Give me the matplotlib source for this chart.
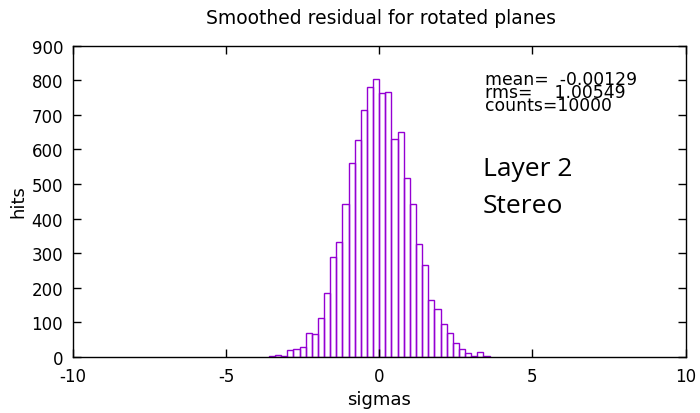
import matplotlib
matplotlib.use("Agg")
import matplotlib.pyplot as plt

# histogram of smoothed residuals, bin width 0.2
bin_centers = [-3.5, -3.3, -3.1, -2.9, -2.7, -2.5, -2.3, -2.1, -1.9, -1.7,
               -1.5, -1.3, -1.1, -0.9, -0.7, -0.5, -0.3, -0.1,
               0.1, 0.3, 0.5, 0.7, 0.9, 1.1, 1.3, 1.5, 1.7, 1.9,
               2.1, 2.3, 2.5, 2.7, 2.9, 3.1, 3.3, 3.5]
counts = [3, 7, 2, 19, 22, 28, 70, 66, 114, 184,
          288, 333, 441, 561, 626, 713, 781, 803,
          762, 765, 631, 651, 518, 441, 328, 266, 166, 139,
          94, 69, 41, 22, 12, 3, 13, 3]
bin_width = 0.2

x_ticks = [-10, -5, 0, 5, 10]
y_ticks = [0, 100, 200, 300, 400, 500, 600, 700, 800, 900]

stats_text = "mean=  -0.00129\nrms=    1.00549\ncounts=10000"
note_lines = ["Layer 2", "Stereo"]

plt.rcParams["font.family"] = ["DejaVu Sans"]
plt.rcParams["axes.unicode_minus"] = False

fig = plt.figure(figsize=(7.0, 4.14), dpi=100)
ax = fig.add_axes([0.1039, 0.1353, 0.8757, 0.7519])

ax.bar(bin_centers, counts, width=bin_width, fill=False,
       edgecolor="#9400d3", linewidth=1.0)

ax.set_xlim(-10, 10)
ax.set_ylim(0, 900)
ax.set_xticks(x_ticks)
ax.set_yticks(y_ticks)
ax.tick_params(direction="in", length=6, width=1.0, top=True, right=True,
               labelsize=12, pad=7, colors="black")
for s in ax.spines.values():
    s.set_linewidth(1.0)

# stats block (tightly packed lines like the gnuplot label)
ax.text(3.44, 714, stats_text, fontsize=12.4, va="baseline", ha="left",
        linespacing=0.66)

for line, yb in zip(note_lines, [527, 420]):
    ax.text(3.37, yb, line, fontsize=19, va="baseline", ha="left",
            family=["Open Sans", "DejaVu Sans"])

fig.text(381 / 700, 1 - 24.3 / 414, "Smoothed residual for rotated planes",
         fontsize=13.5, ha="center", va="baseline")
fig.text(379 / 700, 1 - 405 / 414, "sigmas", fontsize=13, ha="center",
         va="baseline")
fig.text(18 / 700, 1 - 202 / 414, "hits", fontsize=13, ha="center",
         va="center", rotation=90)

fig.savefig("out.png", dpi=100)
